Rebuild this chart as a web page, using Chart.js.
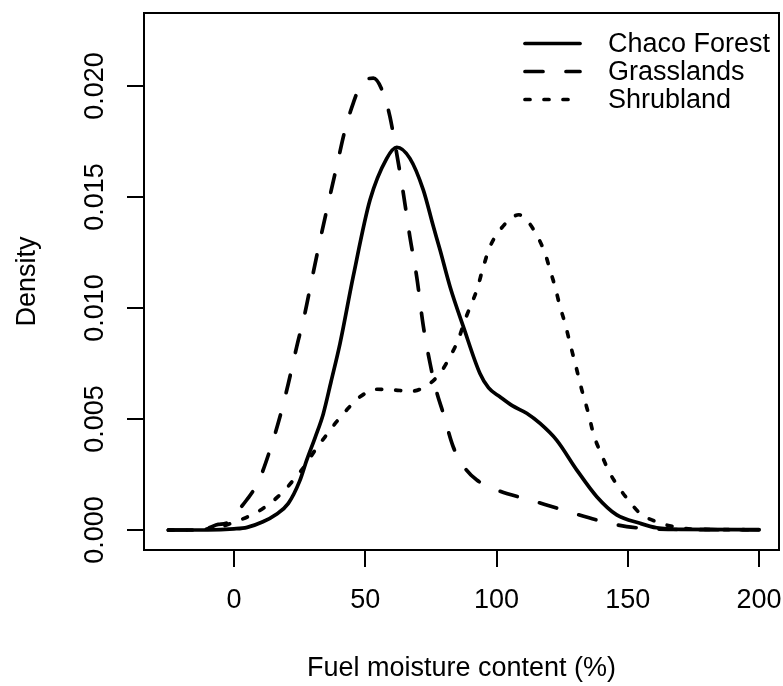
<!DOCTYPE html>
<html>
<head>
<meta charset="utf-8">
<script src="https://cdn.jsdelivr.net/npm/chart.js@4.4.0/dist/chart.umd.min.js"></script>
<style>
html,body{margin:0;padding:0;background:#fff;}
#wrap{width:783px;height:686px;}
</style>
</head>
<body>
<div id="wrap"><canvas id="c" width="783" height="686"></canvas></div>
<script>
// ---- data ----
const seriesNames = ['Chaco Forest', 'Grasslands', 'Shrubland'];

const chacoX = [-25, -10, 0, 5, 11, 16, 20.7, 25, 27.7, 31, 34, 37, 40.4, 45.4, 51.8, 58.2, 62, 67, 72.1, 75.9, 78.5, 82.3, 87.4, 93.7, 97, 101.3, 106, 111.5, 116.6, 122.9, 130.6, 138.2, 145.8, 154.7, 161, 170, 200];
const chacoY = [0, 0, 0.00005, 0.00012, 0.00037, 0.0007, 0.0012, 0.0022, 0.00315, 0.0042, 0.00523, 0.0067, 0.00841, 0.01141, 0.01486, 0.01674, 0.01724, 0.01674, 0.01532, 0.01369, 0.01261, 0.01096, 0.00915, 0.00705, 0.0064, 0.0060, 0.0056, 0.00526, 0.0048, 0.00405, 0.0027, 0.0015, 0.00068, 0.0003, 0.0001, 0.00003, 0.00002];

const grassX = [-25, -15, -10, -6, -3, 0, 4.8, 9.3, 13.7, 17.5, 20.7, 23.9, 27, 29.6, 32.8, 35.9, 39.1, 42.3, 45.4, 48.6, 53.1, 56.9, 59.4, 61.3, 64.5, 67, 69.6, 72.1, 74.7, 77, 79.7, 83.5, 88, 92.5, 100.1, 112.8, 125.4, 138.2, 149.6, 156, 170, 200];
const grassY = [0, 0, 0.00008, 0.00025, 0.0003, 0.00068, 0.00135, 0.00218, 0.0036, 0.0051, 0.0066, 0.00826, 0.00976, 0.01126, 0.01306, 0.01471, 0.01637, 0.01802, 0.01922, 0.02012, 0.02035, 0.01967, 0.01862, 0.01742, 0.01517, 0.01321, 0.01141, 0.0092, 0.0075, 0.0063, 0.00526, 0.00375, 0.00278, 0.00225, 0.0018, 0.00135, 0.0009, 0.00045, 0.00015, 0.00008, 0.00002, 0.00001];

const shrubX = [-25, -15, -10, -5, 0.4, 8, 13.7, 18.8, 23.2, 27.7, 30.9, 34.7, 39.1, 43.5, 48, 54.4, 60.7, 67.5, 73.4, 78.5, 82.3, 85.4, 88, 90, 92.5, 95, 97.5, 101.3, 106.4, 108.5, 111.5, 115.3, 118.5, 120.4, 122.3, 124.2, 126.1, 128, 130.6, 132.5, 135, 137, 140, 143, 146.4, 150.2, 154.7, 161, 167.4, 175, 200];
const shrubY = [0, 0, 0.00005, 0.00015, 0.00037, 0.00075, 0.0012, 0.00173, 0.00233, 0.003, 0.0036, 0.0042, 0.00488, 0.00548, 0.006, 0.00634, 0.00631, 0.00625, 0.0065, 0.00706, 0.00781, 0.00856, 0.00946, 0.01006, 0.01081, 0.01186, 0.01276, 0.01351, 0.01411, 0.0142, 0.01396, 0.01329, 0.01246, 0.01171, 0.01096, 0.01006, 0.00931, 0.00841, 0.00721, 0.00631, 0.00526, 0.0043, 0.0034, 0.0026, 0.00195, 0.00135, 0.00075, 0.00037, 0.00015, 0.00004, 0.00001];

const xTicks = [0, 50, 100, 150, 200];
const yTicks = [0, 0.005, 0.010, 0.015, 0.020];
const xTitle = 'Fuel moisture content (%)';
const yTitle = 'Density';

// ---- build ----
function pts(xs, ys) { return xs.map((x, i) => ({x: x, y: ys[i]})); }

const FONT_FAMILY = "'Liberation Sans', Arial, Helvetica, sans-serif";
const FONT = {family: FONT_FAMILY, size: 27};

const lineBase = {
  borderColor: '#000', backgroundColor: '#000', borderWidth: 3.7,
  pointRadius: 0, fill: false, borderCapStyle: 'round', borderJoinStyle: 'round',
  cubicInterpolationMode: 'monotone'
};

const datasets = [
  Object.assign({}, lineBase, {label: seriesNames[0], data: pts(chacoX, chacoY), borderDash: []}),
  Object.assign({}, lineBase, {label: seriesNames[1], data: pts(grassX, grassY), borderDash: [18, 23]}),
  Object.assign({}, lineBase, {label: seriesNames[2], data: pts(shrubX, shrubY), borderDash: [5, 14]})
];

const framePlugin = {
  id: 'frame',
  afterDatasetsDraw(chart) {
    const a = chart.chartArea, ctx = chart.ctx;
    ctx.save();
    ctx.strokeStyle = '#000'; ctx.lineWidth = 2; ctx.setLineDash([]);
    ctx.strokeRect(a.left, a.top, a.right - a.left, a.bottom - a.top);
    ctx.restore();
  }
};

const legendPlugin = {
  id: 'rlegend',
  afterDatasetsDraw(chart) {
    const a = chart.chartArea, ctx = chart.ctx;
    ctx.save();
    chart.data.datasets.forEach((ds, i) => {
      const y = a.top + 30.5 + i * 28;
      const x0 = a.right - 254, x1 = a.right - 199;
      ctx.beginPath();
      ctx.lineWidth = ds.borderWidth; ctx.strokeStyle = ds.borderColor;
      ctx.lineCap = 'round'; ctx.setLineDash(ds.borderDash || []);
      ctx.moveTo(x0, y); ctx.lineTo(x1, y); ctx.stroke();
      ctx.setLineDash([]);
      ctx.fillStyle = '#000';
      ctx.font = FONT.size + 'px ' + FONT_FAMILY;
      ctx.textAlign = 'left'; ctx.textBaseline = 'middle';
      ctx.fillText(ds.label, a.right - 171, y + 1);
    });
    ctx.restore();
  }
};

new Chart(document.getElementById('c').getContext('2d'), {
  type: 'line',
  data: {datasets: datasets},
  options: {
    responsive: false, animation: false, devicePixelRatio: 1,
    layout: {padding: {top: 13, right: 4, left: 0, bottom: 0}},
    plugins: {legend: {display: false}, tooltip: {enabled: false}},
    scales: {
      x: {
        type: 'linear', min: -34.29, max: 207.62,
        afterBuildTicks: s => { s.ticks = xTicks.map(v => ({value: v})); },
        afterFit: s => { s.height = 136; s.paddingLeft = 0; s.paddingRight = 0; s.paddingTop = 0; s.paddingBottom = 0; },
        grid: {display: true, drawOnChartArea: false, drawTicks: true, tickLength: 17, color: '#000', lineWidth: 2},
        border: {display: false},
        ticks: {padding: 17, font: FONT, color: '#000', minRotation: 0, maxRotation: 0, autoSkip: false, callback: v => String(v)},
        title: {display: true, text: xTitle, font: FONT, color: '#000', padding: {top: 0, bottom: 1}}
      },
      y: {
        type: 'linear', min: -0.000901, max: 0.023288,
        afterBuildTicks: s => { s.ticks = yTicks.map(v => ({value: v})); },
        afterFit: s => { s.width = 144; s.paddingLeft = 0; s.paddingRight = 0; s.paddingTop = 0; s.paddingBottom = 0; },
        grid: {display: true, drawOnChartArea: false, drawTicks: true, tickLength: 17, color: '#000', lineWidth: 2},
        border: {display: false},
        ticks: {padding: -2, font: FONT, color: '#000', minRotation: 90, maxRotation: 90, crossAlign: 'center', autoSkip: false, callback: v => v.toFixed(3)},
        title: {display: true, text: yTitle, font: FONT, color: '#000', padding: {top: 11, bottom: 0}}
      }
    }
  },
  plugins: [framePlugin, legendPlugin]
});
</script>
</body>
</html>
